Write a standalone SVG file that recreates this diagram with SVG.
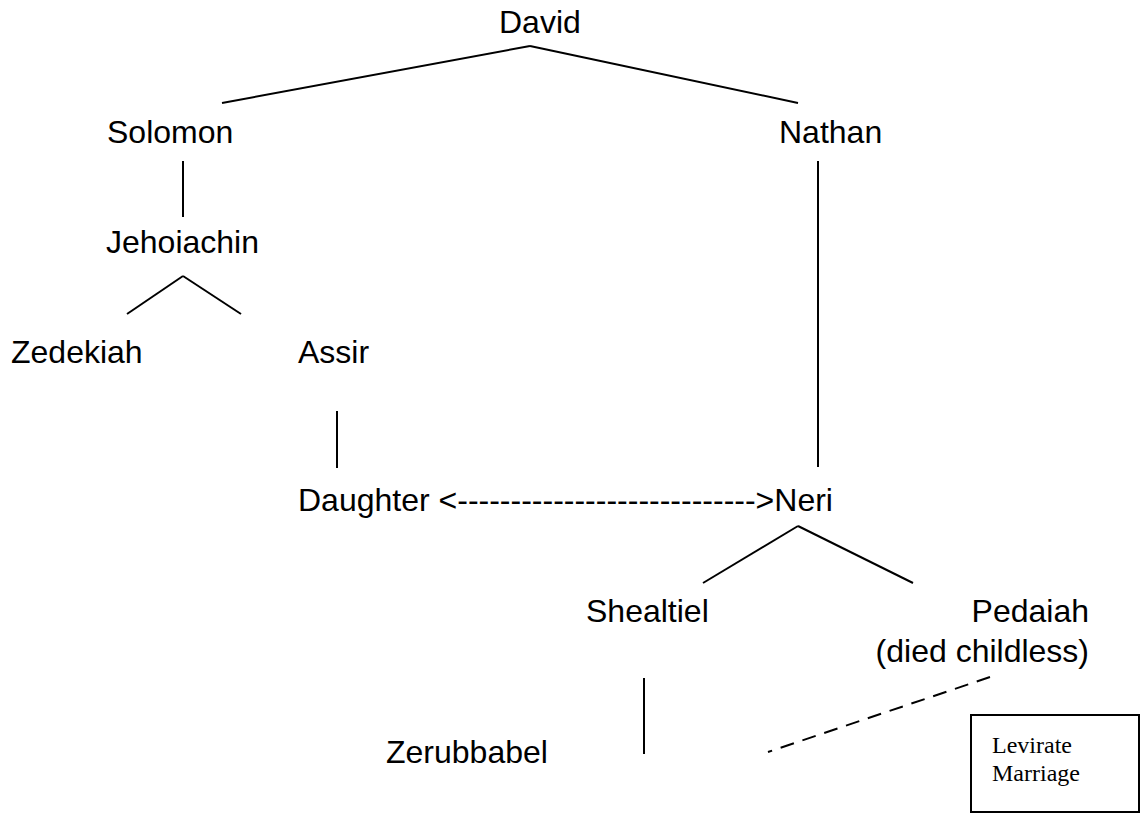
<svg xmlns="http://www.w3.org/2000/svg" width="1142" height="815" viewBox="0 0 1142 815">
<style>
.n{font-family:"Liberation Sans",Arial,sans-serif;font-size:32px;fill:#000}
.s{font-family:"Liberation Serif","Times New Roman",serif;font-size:24px;fill:#000}
.c line{stroke:#000;stroke-width:2;fill:none}
.d{stroke-dasharray:14 9}
</style>
<rect width="1142" height="815" fill="#fff"/>
<g id="connectors" class="c">
<line x1="222" y1="103" x2="530" y2="46"/>
<line x1="530" y1="46" x2="798" y2="103"/>
<line x1="183" y1="161" x2="183" y2="217"/>
<line x1="818" y1="161" x2="818" y2="467"/>
<line x1="127" y1="314" x2="183" y2="276"/>
<line x1="183" y1="276" x2="241" y2="314"/>
<line x1="337" y1="411" x2="337" y2="468"/>
<line x1="703" y1="583" x2="798" y2="526"/>
<line x1="798" y1="526" x2="913" y2="583"/>
<line x1="644" y1="678" x2="644" y2="754"/>
<line class="d" x1="990" y1="677" x2="768" y2="752"/>
</g>
<g id="david"><text class="n" x="499" y="33">David</text></g>
<g id="solomon"><text class="n" x="107" y="143">Solomon</text></g>
<g id="nathan"><text class="n" x="779" y="143">Nathan</text></g>
<g id="jehoiachin"><text class="n" x="106" y="253">Jehoiachin</text></g>
<g id="zedekiah"><text class="n" x="11" y="363">Zedekiah</text></g>
<g id="assir"><text class="n" x="298" y="363">Assir</text></g>
<g id="daughter-neri"><text class="n" x="298" y="511">Daughter &lt;----------------------------&gt;Neri</text></g>
<g id="shealtiel"><text class="n" x="586" y="622">Shealtiel</text></g>
<g id="pedaiah"><text class="n" x="1089" y="622" text-anchor="end">Pedaiah</text><text class="n" x="1089" y="662" text-anchor="end">(died childless)</text></g>
<g id="zerubbabel"><text class="n" x="386" y="763">Zerubbabel</text></g>
<g id="levirate"><rect x="971" y="715" width="168" height="97" fill="#fff" stroke="#000" stroke-width="2"/><text class="s" x="992" y="753">Levirate</text><text class="s" x="992" y="781">Marriage</text></g>
</svg>
